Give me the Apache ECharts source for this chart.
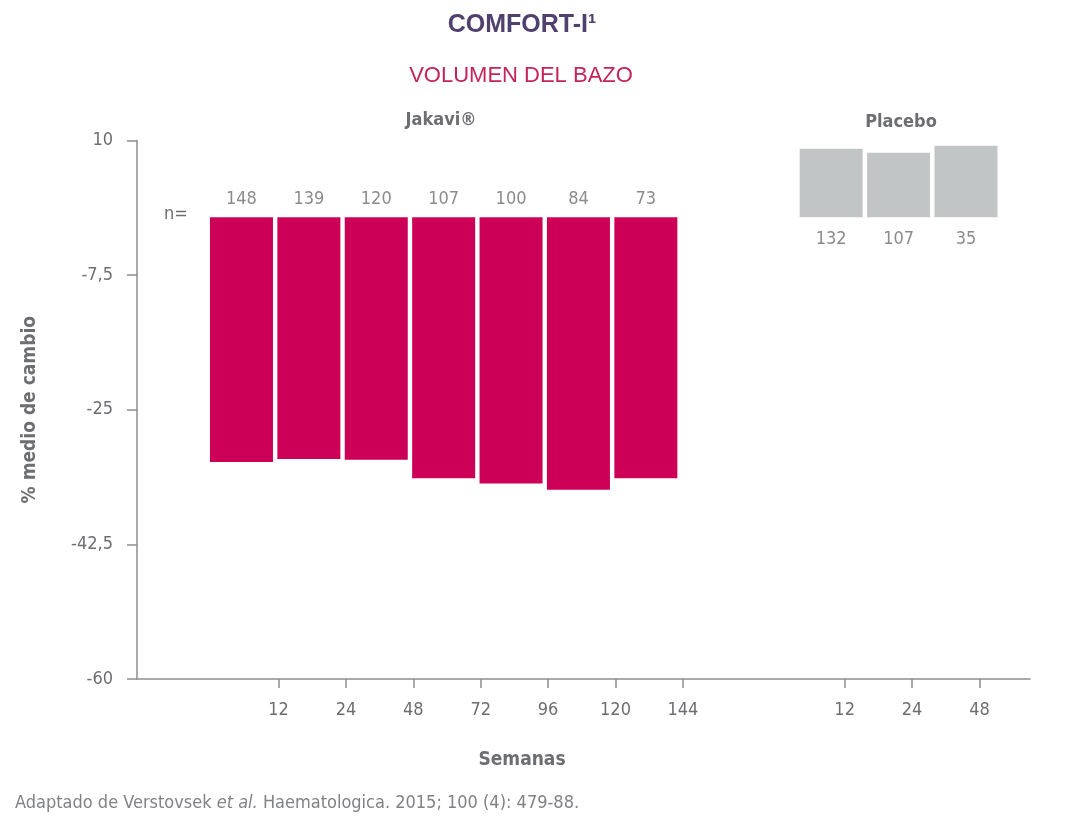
<!DOCTYPE html>
<html>
<head>
<meta charset="utf-8">
<script src="https://cdn.jsdelivr.net/npm/echarts@6/dist/echarts.min.js"></script>
<style>
html,body{margin:0;padding:0;background:#ffffff;}
#chart{width:1080px;height:837px;}
</style>
</head>
<body>
<div id="chart"></div>
<script>
// ---- data ----
const jakaviWeeks = ['12', '24', '48', '72', '96', '120', '144'];
const jakaviValues = [-31.8, -31.4, -31.5, -33.9, -34.6, -35.4, -33.9];
const jakaviN = [148, 139, 120, 107, 100, 84, 73];
const placeboWeeks = ['12', '24', '48'];
const placeboValues = [8.9, 8.4, 9.3];
const placeboN = [132, 107, 35];
const yTicks = [-60, -42.5, -25, -7.5, 10];

// ---- layout (slot units on the x scale) ----
const X_MAX = 13.25, J_START = 1.55, P_START = 10.3, J_TICK = 0.55, P_TICK = 0.2;
const FONT_C = '"Liberation Sans Narrow", "DejaVu Sans Condensed", Roboto, sans-serif';
const GRAY_TXT = '#6d6e71';
const AXIS_COL = '#8f8f8f';

const jX = jakaviValues.map((_, i) => J_START + i);
const pX = placeboValues.map((_, i) => P_START + i);
const tickVals = jX.map(x => x + J_TICK).concat(pX.map(x => x + P_TICK));
const tickLabels = jakaviWeeks.concat(placeboWeeks);

const chart = echarts.init(document.getElementById('chart'));
chart.setOption({
  backgroundColor: '#ffffff',
  animation: false,
  grid: { left: 137, right: 50, top: 140.4, bottom: 158 },
  xAxis: {
    type: 'value', min: 0, max: X_MAX,
    splitLine: { show: false },
    axisLine: { show: true, onZero: false, lineStyle: { color: AXIS_COL, width: 1.5 } },
    axisTick: { show: true, length: 9, customValues: tickVals, lineStyle: { color: AXIS_COL, width: 1.5 } },
    axisLabel: {
      customValues: tickVals, margin: 22,
      color: GRAY_TXT, fontFamily: FONT_C, fontSize: 18,
      formatter: function (v) {
        for (let i = 0; i < tickVals.length; i++) if (Math.abs(tickVals[i] - v) < 1e-6) return tickLabels[i];
        return '';
      }
    }
  },
  yAxis: {
    type: 'value', min: -60, max: 10,
    name: '% medio de cambio', nameLocation: 'middle', nameGap: 97, nameRotate: 90,
    nameTextStyle: { color: GRAY_TXT, fontFamily: FONT_C, fontSize: 19, fontWeight: 'bold' },
    splitLine: { show: false },
    axisLine: { show: true, lineStyle: { color: AXIS_COL, width: 1.5 } },
    axisTick: { show: true, length: 10, customValues: yTicks, lineStyle: { color: AXIS_COL, width: 1.5 } },
    axisLabel: {
      customValues: yTicks, margin: 24,
      color: GRAY_TXT, fontFamily: FONT_C, fontSize: 18,
      formatter: v => String(v).replace('.', ',')
    }
  },
  series: [
    {
      name: 'Jakavi', type: 'bar', barWidth: 63, barGap: '-100%',
      itemStyle: { color: '#cd0057' },
      data: jakaviValues.map((v, i) => [jX[i], v])
    },
    {
      name: 'Placebo', type: 'bar', barWidth: 63, barGap: '-100%',
      itemStyle: { color: '#c1c5c5' },
      data: placeboValues.map((v, i) => [pX[i], v])
    },
    {
      name: 'nJakavi', type: 'scatter', symbolSize: 0, silent: true,
      itemStyle: { color: 'rgba(0,0,0,0)' },
      label: { show: true, position: 'top', distance: 9, color: GRAY_TXT, fontFamily: FONT_C, fontSize: 18,
        formatter: p => p.value[2] },
      data: jakaviN.map((n, i) => [jX[i], 0, n])
    },
    {
      name: 'nPlacebo', type: 'scatter', symbolSize: 0, silent: true,
      itemStyle: { color: 'rgba(0,0,0,0)' },
      label: { show: true, position: 'bottom', distance: 13, color: GRAY_TXT, fontFamily: FONT_C, fontSize: 18,
        formatter: p => p.value[2] },
      data: placeboN.map((n, i) => [pX[i], 0, n])
    }
  ],
  graphic: [
    { type: 'text', x: 522, y: 25, style: { text: 'COMFORT-I¹', textAlign: 'center', textVerticalAlign: 'middle',
      font: 'bold 25px "Liberation Sans", Arial, sans-serif', fill: '#50406e' } },
    { type: 'text', x: 521, y: 76, style: { text: 'VOLUMEN DEL BAZO', textAlign: 'center', textVerticalAlign: 'middle',
      font: '22px "Liberation Sans", Arial, sans-serif', fill: '#c4245b' } },
    { type: 'text', x: 441, y: 120, style: { text: 'Jakavi®', textAlign: 'center', textVerticalAlign: 'middle',
      font: 'bold 18px ' + FONT_C, fill: GRAY_TXT } },
    { type: 'text', x: 901, y: 122, style: { text: 'Placebo', textAlign: 'center', textVerticalAlign: 'middle',
      font: 'bold 18px ' + FONT_C, fill: GRAY_TXT } },
    { type: 'text', x: 176, y: 214, style: { text: 'n=', textAlign: 'center', textVerticalAlign: 'middle',
      font: '18px ' + FONT_C, fill: GRAY_TXT } },
    { type: 'text', x: 522, y: 760, style: { text: 'Semanas', textAlign: 'center', textVerticalAlign: 'middle',
      font: 'bold 19px ' + FONT_C, fill: GRAY_TXT } },
    { type: 'text', x: 15, y: 803, style: {
      text: '{a|Adaptado de Verstovsek }{i|et al.}{a| Haematologica. 2015; 100 (4): 479-88.}',
      textVerticalAlign: 'middle', fill: '#808285',
      rich: {
        a: { fontFamily: FONT_C, fontSize: 18, fill: '#808285' },
        i: { fontFamily: FONT_C, fontSize: 18, fontStyle: 'italic', fill: '#808285' }
      } } }
  ]
});
</script>
</body>
</html>
